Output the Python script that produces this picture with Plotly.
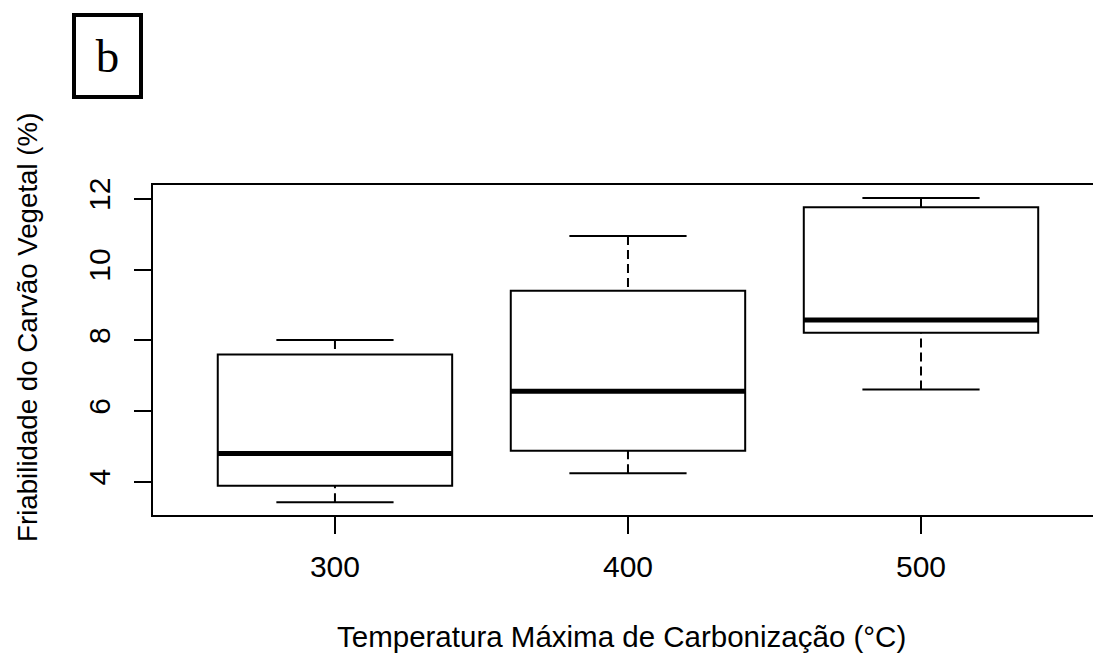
import plotly.graph_objects as go

# ---- data ----
categories = ["300", "400", "500"]
positions = [1, 2, 3]
lower_whisker = [3.42, 4.24, 6.61]
q1_values = [3.89, 4.88, 8.21]
median_values = [4.80, 6.56, 8.57]
q3_values = [7.60, 9.40, 11.76]
upper_whisker = [8.01, 10.95, 12.02]
y_ticks = [4, 6, 8, 10, 12]

BOX_HALF = 0.4
CAP_HALF = 0.2
FONT = "Liberation Sans, Arial, sans-serif"

fig = go.Figure()

# boxes (plotly box traces with precomputed statistics)
fig.add_trace(go.Box(
    x=positions, q1=q1_values, median=median_values, q3=q3_values,
    lowerfence=q1_values, upperfence=q3_values,
    width=2 * BOX_HALF, whiskerwidth=0, boxpoints=False,
    fillcolor="white", line=dict(color="black", width=2),
    showlegend=False, hoverinfo="skip",
))

# dashed whiskers
wx, wy = [], []
for p, lo, a, b, hi in zip(positions, lower_whisker, q1_values, q3_values, upper_whisker):
    wx += [p, p, None, p, p, None]
    wy += [hi, b, None, lo, a, None]
fig.add_trace(go.Scatter(x=wx, y=wy, mode="lines",
                         line=dict(color="black", width=2, dash="9px,5px"),
                         showlegend=False, hoverinfo="skip"))

# whisker caps
cx, cy = [], []
for p, lo, hi in zip(positions, lower_whisker, upper_whisker):
    cx += [p - CAP_HALF, p + CAP_HALF, None, p - CAP_HALF, p + CAP_HALF, None]
    cy += [hi, hi, None, lo, lo, None]
fig.add_trace(go.Scatter(x=cx, y=cy, mode="lines",
                         line=dict(color="black", width=2),
                         showlegend=False, hoverinfo="skip"))

# thick medians
mx, my = [], []
for p, m in zip(positions, median_values):
    mx += [p - BOX_HALF, p + BOX_HALF, None]
    my += [m, m, None]
fig.add_trace(go.Scatter(x=mx, y=my, mode="lines",
                         line=dict(color="black", width=5),
                         showlegend=False, hoverinfo="skip"))

fig.update_layout(
    width=1093, height=653,
    margin=dict(l=153, r=0, t=185, b=138),
    paper_bgcolor="white", plot_bgcolor="white",
    font=dict(family=FONT, color="black"),
    xaxis=dict(
        range=[0.379, 3.587], tickmode="array", tickvals=positions,
        ticktext=categories, showgrid=False, zeroline=False,
        showline=True, mirror=True, linecolor="black", linewidth=1.5,
        ticks="outside", ticklen=17, tickwidth=1.5, tickcolor="black",
        tickfont=dict(size=30, family=FONT, color="black"),
        ticklabelstandoff=7,
    ),
    yaxis=dict(
        range=[3.06, 12.39], tickmode="array", tickvals=y_ticks,
        ticktext=[str(v) for v in y_ticks], showgrid=False, zeroline=False,
        showline=True, mirror=False, linecolor="black", linewidth=1.5,
        ticks="outside", ticklen=17, tickwidth=1.5, tickcolor="black",
        tickangle=-90,
        tickfont=dict(size=30, family=FONT, color="black"),
        ticklabelstandoff=12,
    ),
    annotations=[
        dict(text="Friabilidade do Carvão Vegetal (%)", xref="paper", yref="paper",
             x=(27 - 153) / 940, y=(515 - 328) / 330, textangle=-90,
             xanchor="center", yanchor="middle", showarrow=False,
             font=dict(size=27.7, family=FONT, color="black")),
        dict(text="Temperatura Máxima de Carbonização (°C)", xref="paper", yref="paper",
             x=(621 - 153) / 940, y=(515 - 636) / 330,
             xanchor="center", yanchor="middle", showarrow=False,
             font=dict(size=29.5, family=FONT, color="black")),
        dict(text="b", xref="paper", yref="paper",
             x=(107.5 - 153) / 940, y=(515 - 56) / 330,
             xanchor="center", yanchor="middle", showarrow=False,
             width=63, height=78, borderpad=0, borderwidth=4, bordercolor="black",
             bgcolor="white",
             font=dict(size=47, family="Liberation Serif, DejaVu Serif, serif", color="black")),
    ],
)

fig.write_html(
    "out.html",
    config={"displayModeBar": False},
    post_script="document.body.style.margin='0';document.body.style.overflow='hidden';",
)
